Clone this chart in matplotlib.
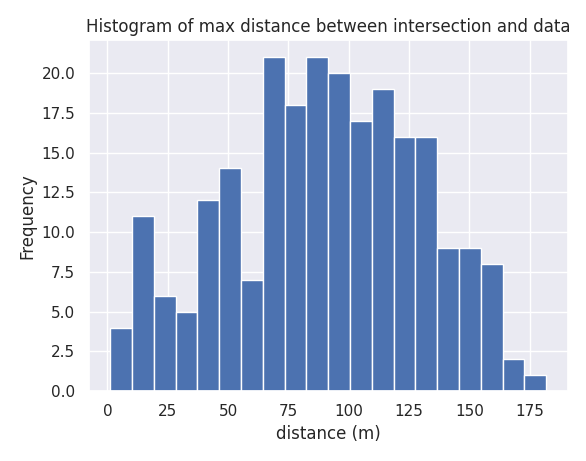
import matplotlib
matplotlib.use("Agg")
import matplotlib.pyplot as plt
import numpy as np
import seaborn as sns

sns.set_theme()

# counts per bin
counts = [4, 11, 6, 5, 12, 14, 7, 21, 18, 21, 20, 17, 19, 16, 16, 9, 9, 8, 2, 1]
bin_start = 1.2
bin_end = 181.8

edges = np.linspace(bin_start, bin_end, len(counts) + 1)
centers = (edges[:-1] + edges[1:]) / 2

fig = plt.figure(figsize=(5.86, 4.61), dpi=100)
plt.hist(centers, bins=edges, weights=counts)
plt.xlabel("distance (m)")
plt.ylabel("Frequency")
plt.title("Histogram of max distance between intersection and data")
plt.tight_layout()
plt.savefig("out.png")
